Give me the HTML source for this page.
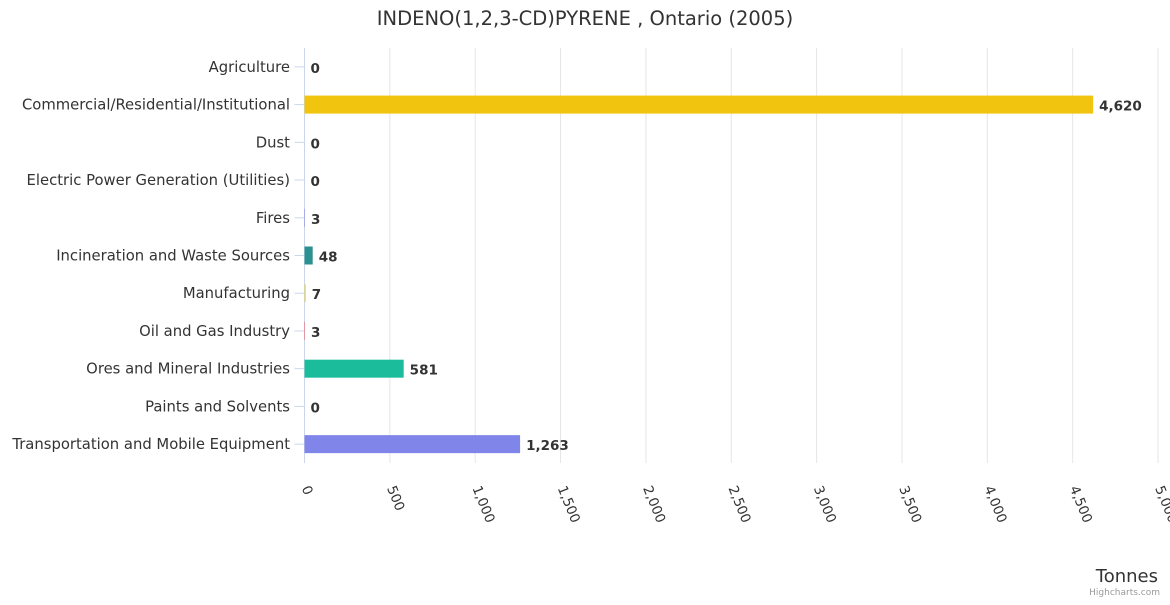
<!DOCTYPE html>
<html><head><meta charset="utf-8"><style>
body{margin:0;background:#fff;font-family:"Liberation Sans","DejaVu Sans",sans-serif;}
svg text{font-family:"DejaVu Sans","Liberation Sans",sans-serif;}
</style></head><body>
<svg id="chart" width="1170" height="600" xmlns="http://www.w3.org/2000/svg">
<text x="585" y="25" text-anchor="middle" font-size="19.5" fill="#333">INDENO(1,2,3-CD)PYRENE , Ontario (2005)</text>
<g id="grid"></g><g id="bars"></g><g id="labels"></g>
<text x="1158" y="582" text-anchor="end" font-size="18" fill="#333">Tonnes</text>
<text x="1160" y="595" text-anchor="end" font-size="9" fill="#999">Highcharts.com</text>
</svg>
<script>
const categories=["Agriculture","Commercial/Residential/Institutional","Dust","Electric Power Generation (Utilities)","Fires","Incineration and Waste Sources","Manufacturing","Oil and Gas Industry","Ores and Mineral Industries","Paints and Solvents","Transportation and Mobile Equipment"];
const values=[0,4620,0,0,3,48,7,3,581,0,1263];
const colors=["#7cb5ec","#f1c40f","#90ed7d","#f7a35c","#8085e9","#2b908f","#e4d354","#f45b5b","#1abc9c","#91e8e1","#8085e9"];
const ticks=[0,500,1000,1500,2000,2500,3000,3500,4000,4500,5000];
const NS="http://www.w3.org/2000/svg";
const L=304.5,R=1158,T=48,B=463,MAX=5000;
const x=v=>L+(R-L)*v/MAX;
const band=(B-T)/categories.length;
const y=i=>T+band*(i+0.5);
function mk(tag,attrs,parent,text){const e=document.createElementNS(NS,tag);for(const k in attrs)e.setAttribute(k,attrs[k]);if(text!==undefined)e.textContent=text;document.getElementById(parent).appendChild(e);return e;}
ticks.forEach((t,i)=>{
 if(i>0){const g=mk("line",{x1:x(t),x2:x(t),y1:T,y2:B,stroke:"#e6e6e6"},"grid");
 
 }
 const tx=x(t)-3,ty=488;
 const lb=mk("text",{x:tx,y:ty,"font-size":13.5,fill:"#333",transform:`rotate(68 ${tx} ${ty})`},"labels",t.toLocaleString("en-US"));
 
 
});
const ax=mk("line",{x1:L,x2:L,y1:T,y2:B,stroke:"#ccd6eb"},"grid");


categories.forEach((c,i)=>{
 const cy=y(i);
 const tk=mk("line",{x1:L-10,x2:L,y1:cy,y2:cy,stroke:"#ccd6eb"},"grid");
 
 
 const cl=mk("text",{x:290,y:cy+5,"text-anchor":"end","font-size":14.8,fill:"#333"},"labels",c);
 
 
 const w=x(values[i])-L;
 const r=mk("rect",{x:L,y:cy-9,width:Math.max(w,0),height:18,fill:colors[i]},"bars");
 
 
 const vl=mk("text",{x:L+w+6,y:cy+6,"font-size":13.5,"font-weight":"bold",fill:"#333"},"labels",values[i].toLocaleString("en-US"));
 
 
});
</script>
</body></html>
